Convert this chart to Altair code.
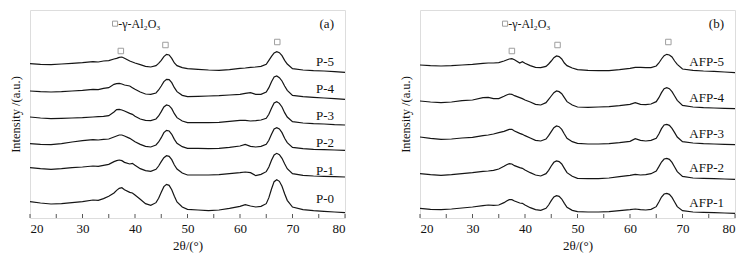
import altair as alt
import pandas as pd

FONT = "'Liberation Serif', 'Times New Roman', Times, serif"

two_theta = [20, 22, 24, 26, 28, 30, 32, 33, 34, 35,
             36, 36.5, 37, 37.5, 38, 39, 39.5, 40, 41, 42,
             43, 44, 44.5, 45, 45.5, 46, 46.5, 47, 47.5, 48,
             49, 50, 52, 54, 56, 58, 60, 61, 62, 63,
             64, 65, 65.5, 66, 66.5, 67, 67.5, 68, 68.5, 69,
             70, 72, 74, 76, 78, 80]

# panel (a) intensities (a.u., stacked)
p5 = [463, 461, 460, 462, 464, 466, 469, 468, 471, 472,
      477, 479, 482, 483, 479, 471, 468, 465, 460, 455,
      453, 457, 464, 473, 484, 491, 489, 479, 465, 457,
      451, 448, 446, 444, 443, 445, 449, 450, 452, 453,
      455, 461, 473, 485, 495, 499, 496, 487, 473, 462,
      448, 444, 442, 441, 439, 437]
p4 = [381, 379, 378, 379, 381, 383, 386, 385, 389, 391,
      401, 403, 404, 402, 399, 396, 391, 386, 378, 372,
      371, 375, 384, 396, 409, 416, 415, 406, 391, 379,
      368, 364, 365, 366, 367, 369, 371, 374, 376, 371,
      371, 378, 391, 409, 423, 426, 421, 411, 396, 383,
      368, 364, 362, 360, 358, 356]
p3 = [303, 300, 298, 299, 300, 301, 303, 304, 305, 307,
      318, 325, 326, 324, 321, 314, 311, 305, 297, 293,
      292, 297, 306, 319, 333, 339, 337, 328, 313, 301,
      291, 286, 286, 286, 287, 290, 293, 293, 291, 292,
      294, 299, 311, 329, 345, 349, 344, 333, 316, 303,
      289, 285, 283, 282, 280, 279]
p2 = [223, 221, 220, 223, 228, 232, 235, 234, 236, 237,
      243, 246, 249, 249, 246, 239, 234, 229, 221, 215,
      213, 219, 228, 241, 256, 263, 261, 251, 236, 224,
      214, 209, 209, 208, 209, 212, 216, 221, 215, 213,
      215, 221, 233, 251, 267, 271, 267, 256, 239, 226,
      212, 208, 206, 205, 204, 203]
p1 = [151, 148, 146, 148, 151, 153, 156, 155, 158, 161,
      169, 172, 174, 172, 167, 162, 164, 158, 148, 142,
      140, 146, 156, 169, 181, 187, 185, 175, 159, 147,
      135, 129, 129, 129, 130, 133, 136, 138, 136, 127,
      131, 139, 153, 173, 189, 194, 190, 179, 163, 148,
      133, 128, 126, 125, 124, 123]
p0 = [49, 45, 42, 43, 46, 49, 54, 53, 58, 65,
      75, 83, 89, 91, 85, 77, 75, 69, 56, 43,
      38, 46, 59, 77, 94, 101, 98, 85, 65, 48,
      33, 26, 24, 22, 24, 29, 35, 40, 36, 33,
      35, 43, 61, 87, 109, 115, 110, 95, 73, 53,
      33, 25, 22, 20, 18, 16]

# panel (b)
afp5 = [459, 457, 456, 457, 459, 461, 464, 465, 465, 466,
        471, 474, 477, 478, 475, 465, 469, 464, 457, 452,
        451, 455, 462, 471, 481, 486, 484, 477, 465, 457,
        450, 445, 443, 442, 442, 445, 449, 452, 452, 451,
        451, 456, 465, 477, 487, 491, 489, 483, 471, 461,
        447, 443, 441, 440, 438, 436]
afp4 = [351, 348, 346, 348, 352, 354, 361, 362, 358, 358,
        365, 369, 372, 371, 367, 361, 358, 354, 348, 341,
        339, 346, 356, 366, 376, 381, 379, 373, 361, 349,
        339, 333, 332, 333, 334, 337, 341, 346, 341, 340,
        342, 349, 361, 376, 388, 391, 388, 379, 366, 353,
        338, 333, 331, 330, 329, 328]
afp3 = [243, 239, 236, 237, 240, 242, 247, 249, 252, 256,
        260, 263, 266, 266, 261, 254, 251, 247, 240, 233,
        231, 237, 247, 259, 271, 276, 274, 266, 252, 239,
        229, 224, 222, 222, 223, 226, 230, 238, 233, 231,
        233, 239, 252, 268, 279, 281, 278, 269, 256, 243,
        229, 225, 223, 222, 221, 220]
afp2 = [133, 130, 128, 130, 133, 136, 140, 141, 143, 147,
        155, 160, 163, 162, 157, 151, 149, 144, 136, 129,
        126, 133, 143, 156, 167, 171, 169, 162, 149, 136,
        125, 119, 118, 118, 120, 124, 128, 131, 129, 130,
        133, 141, 154, 168, 177, 179, 176, 167, 153, 139,
        125, 120, 119, 118, 117, 116]
afp1 = [29, 26, 25, 27, 30, 33, 37, 39, 38, 39,
        46, 51, 55, 55, 51, 45, 44, 39, 31, 25,
        23, 29, 39, 52, 63, 67, 65, 57, 44, 32,
        23, 19, 18, 18, 19, 22, 25, 27, 25, 24,
        26, 34, 48, 63, 72, 74, 71, 62, 48, 34,
        22, 18, 17, 16, 15, 14]

names_a = ["P-5", "P-4", "P-3", "P-2", "P-1", "P-0"]
series_a = [p5, p4, p3, p2, p1, p0]
label_v_a = [468, 387, 306, 226, 141, 56]

names_b = ["AFP-5", "AFP-4", "AFP-3", "AFP-2", "AFP-1"]
series_b = [afp5, afp4, afp3, afp2, afp1]
label_v_b = [468, 361, 251, 151, 46]

label_deg = 77.9
marker_deg_a = [37.3, 45.8, 67.1]
marker_deg_b = [37.5, 46.2, 67.3]
marker_v = [501, 519, 528]
legend_v = 583
legend_sq_deg = 36.2
legend_text_deg = 36.8
legend_text = "-γ-Al₂O₃"
x_ticks = [20, 25, 30, 35, 40, 45, 50, 55, 60, 65, 70, 75, 80]
x_labels = [20, 30, 40, 50, 60, 70, 80]

W, H = 315, 208


def panel(names, series, label_v, marker_deg, tag):
    rows = []
    for n, s in zip(names, series):
        for d, v in zip(two_theta, s):
            rows.append({"deg": d, "v": v, "sample": n})
    df = pd.DataFrame(rows)

    xe = alt.X("deg:Q", scale=alt.Scale(domain=[20, 80], nice=False, zero=False),
               axis=alt.Axis(values=x_labels, ticks=False, domain=False, grid=False,
                             labelFont=FONT, labelFontSize=13, labelColor="#111",
                             labelPadding=4, title="2θ/(°)", titleFont=FONT,
                             titleFontSize=13, titleFontWeight="normal",
                             titleColor="#111", titlePadding=4))
    ye = alt.Y("v:Q", scale=alt.Scale(domain=[0, 624], nice=False, zero=False),
               axis=alt.Axis(labels=False, ticks=False, domain=False, grid=False,
                             title="Intensity /(a.u.)", titleFont=FONT,
                             titleFontSize=12.5, titleFontWeight="normal",
                             titleColor="#111", titlePadding=8))

    lines = alt.Chart(df).mark_line(color="#151515", strokeWidth=1.2).encode(
        x=xe, y=ye, detail="sample:N")

    lab_df = pd.DataFrame({"deg": [label_deg] * len(names), "v": label_v, "t": names})
    labs = alt.Chart(lab_df).mark_text(font=FONT, fontSize=13, align="right",
                                       baseline="middle", color="#111").encode(
        x=xe, y=ye, text="t:N")

    mk_df = pd.DataFrame({"deg": marker_deg, "v": marker_v})
    marks = alt.Chart(mk_df).mark_point(shape="square", filled=False, size=30,
                                        color="#777", strokeWidth=1).encode(x=xe, y=ye)

    lg_sq = alt.Chart(pd.DataFrame({"deg": [legend_sq_deg], "v": [legend_v]})).mark_point(
        shape="square", filled=False, size=26, color="#777", strokeWidth=1).encode(x=xe, y=ye)
    lg_tx = alt.Chart(pd.DataFrame({"deg": [legend_text_deg], "v": [legend_v], "t": [legend_text]})).mark_text(
        font=FONT, fontSize=12, align="left", baseline="middle", color="#111").encode(
        x=xe, y=ye, text="t:N")

    tag_tx = alt.Chart(pd.DataFrame({"deg": [label_deg], "v": [legend_v], "t": [tag]})).mark_text(
        font=FONT, fontSize=13, align="right", baseline="middle", color="#111").encode(
        x=xe, y=ye, text="t:N")

    tk = alt.Chart(pd.DataFrame({"deg": x_ticks})).mark_rule(color="#555", strokeWidth=1).encode(
        x=xe, y=alt.value(H), y2=alt.value(H - 4))

    return alt.layer(tk, lines, labs, marks, lg_sq, lg_tx, tag_tx).properties(width=W, height=H)


a = panel(names_a, series_a, label_v_a, marker_deg_a, "(a)")
b = panel(names_b, series_b, label_v_b, marker_deg_b, "(b)")

chart = alt.hconcat(a, b, spacing=75, bounds="flush").properties(
    padding={"left": 0, "top": 1, "right": 0, "bottom": 0}
).configure_view(stroke="#8a8a8a", strokeWidth=1).configure(
    background="white", font=FONT)

chart.save("out.html", embed_options={"renderer": "svg", "actions": False})
